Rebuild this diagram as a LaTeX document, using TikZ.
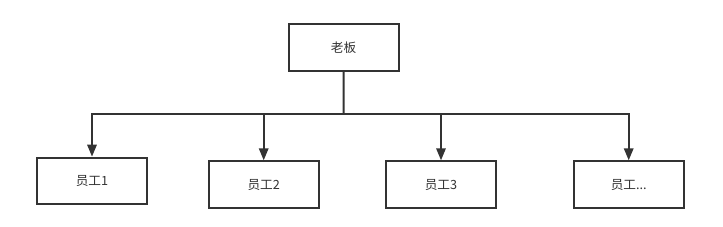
\documentclass[tikz,border=0pt]{standalone}
\usepackage{fontspec}
\newfontfamily\cjk{Noto Sans CJK SC}
\usetikzlibrary{arrows.meta}
\definecolor{ln}{HTML}{333333}
\begin{document}
\begin{tikzpicture}[x=0.75pt,y=-0.75pt,
  boxn/.style={draw=ln,line width=1.5pt,minimum width=82.5pt,minimum height=35pt,inner sep=0pt,font=\cjk\fontsize{9.5}{11}\selectfont,text=ln},
  conn/.style={draw=ln,line width=1.5pt},
  arr/.style={conn,-{Triangle[length=9pt,width=7pt]}}]
\useasboundingbox (0,0) rectangle (723,227);
\fill[white] (0,0) rectangle (723,227);
\node[boxn] (boss) at (343.5,47.5) {老板};
\node[boxn] (e1) at (92,181) {员工1};
\node[boxn] (e2) at (263.7,184.7) {员工2};
\node[boxn] (e3) at (441,184.7) {员工3};
\node[boxn] (e4) at (628.7,184.7) {员工...};
\coordinate (j) at (343.7,114);
\draw[conn] (boss.south) -- (j);
\draw[arr] (j) -| (e1.north);
\draw[arr] (j) -| (e2.north);
\draw[arr] (j) -| (e3.north);
\draw[arr] (j) -| (e4.north);
\end{tikzpicture}
\end{document}
